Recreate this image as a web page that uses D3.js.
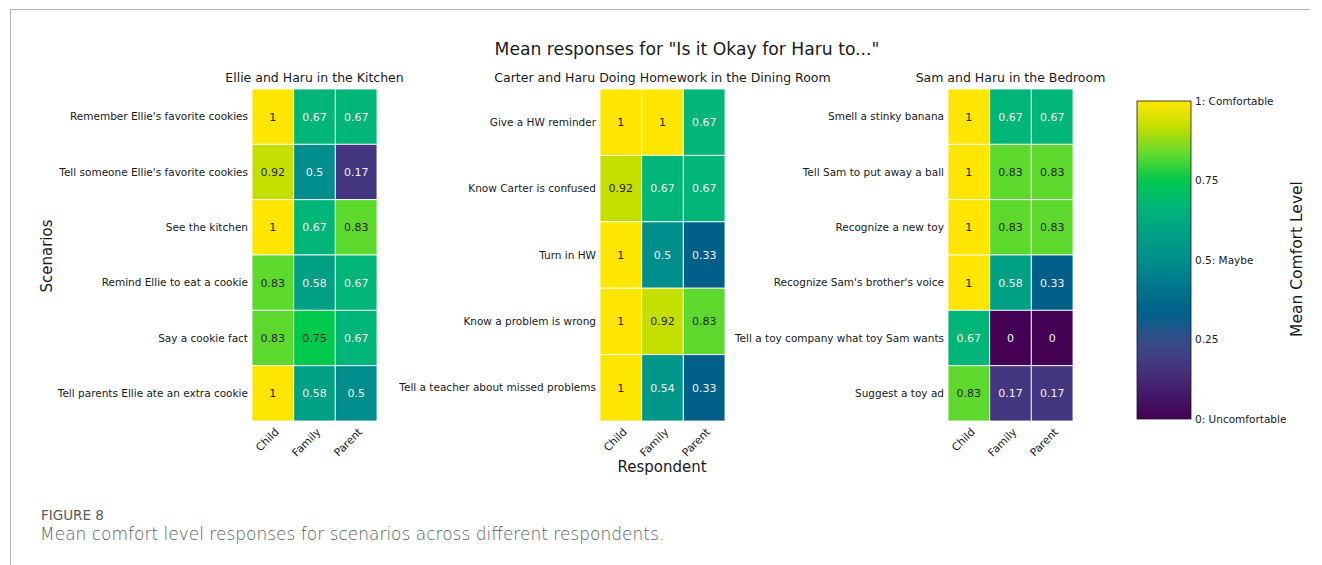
<!DOCTYPE html>
<html>
<head>
<meta charset="utf-8">
<style>
  body { margin: 0; background: #fff; }
  text { font-family: "DejaVu Sans", sans-serif; }
</style>
</head>
<body>
<div id="chart"></div>
<script src="https://d3js.org/d3.v7.min.js"></script>
<script>
    // respondents (columns)
    const respondents = ['Child', 'Family', 'Parent'];

    // kitchen panel
    const kitchenTitle = 'Ellie and Haru in the Kitchen';
    const kitchenScenarios = [
        "Remember Ellie's favorite cookies",
        "Tell someone Ellie's favorite cookies",
        'See the kitchen',
        'Remind Ellie to eat a cookie',
        'Say a cookie fact',
        'Tell parents Ellie ate an extra cookie'
    ];
    const kitchenValues = [
        [1, 0.67, 0.67],
        [0.92, 0.5, 0.17],
        [1, 0.67, 0.83],
        [0.83, 0.58, 0.67],
        [0.83, 0.75, 0.67],
        [1, 0.58, 0.5]
    ];

    // homework panel
    const homeworkTitle = 'Carter and Haru Doing Homework in the Dining Room';
    const homeworkScenarios = [
        'Give a HW reminder',
        'Know Carter is confused',
        'Turn in HW',
        'Know a problem is wrong',
        'Tell a teacher about missed problems'
    ];
    const homeworkValues = [
        [1, 1, 0.67],
        [0.92, 0.67, 0.67],
        [1, 0.5, 0.33],
        [1, 0.92, 0.83],
        [1, 0.54, 0.33]
    ];

    // bedroom panel
    const bedroomTitle = 'Sam and Haru in the Bedroom';
    const bedroomScenarios = [
        'Smell a stinky banana',
        'Tell Sam to put away a ball',
        'Recognize a new toy',
        "Recognize Sam's brother's voice",
        'Tell a toy company what toy Sam wants',
        'Suggest a toy ad'
    ];
    const bedroomValues = [
        [1, 0.67, 0.67],
        [1, 0.83, 0.83],
        [1, 0.83, 0.83],
        [1, 0.58, 0.33],
        [0.67, 0, 0],
        [0.83, 0.17, 0.17]
    ];

    // colorbar ticks
    const cbarTicks = [0, 0.25, 0.5, 0.75, 1];
    const cbarLabels = ['0: Uncomfortable', '0.25', '0.5: Maybe', '0.75', '1: Comfortable'];

    const W = 1322, H = 565;
    const svg = d3.select('#chart').append('svg')
        .attr('width', W)
        .attr('height', H);

    // frame of the figure box
    svg.append('path')
        .attr('d', 'M10.5,' + H + ' L10.5,9.5 L1310,9.5')
        .attr('fill', 'none')
        .attr('stroke', '#b5b5b5')
        .attr('stroke-width', 1);

    // viridis as it looks in the figure (more saturated)
    const color = d3.scaleLinear()
        .domain([0, 0.17, 0.25, 0.33, 0.42, 0.5, 0.58, 0.67, 0.75, 0.83, 0.92, 1])
        .range(['#440154', '#443680', '#334f8a', '#00608a', '#00778c', '#008e8c',
                '#00a085', '#00b578', '#00c94c', '#5dd92e', '#c5df00', '#ffe600'])
        .interpolate(d3.interpolateRgb)
        .clamp(true);

    svg.append('text')
        .attr('x', 687)
        .attr('y', 55)
        .attr('text-anchor', 'middle')
        .attr('font-size', 17.2)
        .attr('fill', '#1a1a1a')
        .text('Mean responses for "Is it Okay for Haru to..."');

    const gridTop = 89, gridBottom = 421, cellW = 125;

    function panel(left, title, scenarios, values) {
        const x = d3.scaleBand().domain(respondents).range([left, left + cellW]);
        const y = d3.scaleBand().domain(scenarios).range([gridTop, gridBottom]);
        const g = svg.append('g');

        g.append('text')
            .attr('x', left + cellW / 2)
            .attr('y', 82)
            .attr('text-anchor', 'middle')
            .attr('font-size', 12.5)
            .attr('fill', '#1a1a1a')
            .text(title);

        scenarios.forEach((s, i) => {
            respondents.forEach((r, j) => {
                const v = values[i][j];
                g.append('rect')
                    .attr('x', x(r))
                    .attr('y', y(s))
                    .attr('width', x.bandwidth())
                    .attr('height', y.bandwidth())
                    .attr('fill', color(v))
                    .attr('stroke', '#ffffff')
                    .attr('stroke-opacity', 0.85)
                    .attr('stroke-width', 1);
                g.append('text')
                    .attr('x', x(r) + x.bandwidth() / 2)
                    .attr('y', y(s) + y.bandwidth() / 2)
                    .attr('dy', '0.35em')
                    .attr('text-anchor', 'middle')
                    .attr('font-size', 11)
                    .attr('fill', v >= 0.72 ? '#262626' : '#f2f2f2')
                    .text(String(v));
            });
        });

        // row labels
        g.selectAll('.row-label')
            .data(scenarios)
            .enter()
            .append('text')
            .attr('x', left - 4)
            .attr('y', d => y(d) + y.bandwidth() / 2)
            .attr('dy', '0.35em')
            .attr('text-anchor', 'end')
            .attr('font-size', 10.5)
            .attr('fill', '#1a1a1a')
            .text(d => d);

        // rotated column labels
        g.selectAll('.col-label')
            .data(respondents)
            .enter()
            .append('text')
            .attr('transform', d => `translate(${x(d) + x.bandwidth() / 2 + 4},${gridBottom + 9}) rotate(-45)`)
            .attr('text-anchor', 'end')
            .attr('dy', '0.35em')
            .attr('font-size', 10.8)
            .attr('fill', '#1a1a1a')
            .text(d => d);
    }

    panel(252, kitchenTitle, kitchenScenarios, kitchenValues);
    panel(600, homeworkTitle, homeworkScenarios, homeworkValues);
    panel(948, bedroomTitle, bedroomScenarios, bedroomValues);

    // axis titles
    svg.append('text')
        .attr('transform', 'translate(52,256) rotate(-90)')
        .attr('text-anchor', 'middle')
        .attr('font-size', 15)
        .attr('fill', '#1a1a1a')
        .text('Scenarios');

    svg.append('text')
        .attr('x', 662)
        .attr('y', 472)
        .attr('text-anchor', 'middle')
        .attr('font-size', 15)
        .attr('fill', '#1a1a1a')
        .text('Respondent');

    // colorbar
    const cbX = 1137, cbW = 54, cbTop = 101, cbBottom = 419;
    const cy = d3.scaleLinear().domain([0, 1]).range([cbBottom, cbTop]);
    const defs = svg.append('defs');
    const grad = defs.append('linearGradient')
        .attr('id', 'cbar')
        .attr('x1', 0).attr('y1', 1).attr('x2', 0).attr('y2', 0);
    d3.range(0, 1.0001, 0.02).forEach(t => {
        grad.append('stop')
            .attr('offset', t)
            .attr('stop-color', color(t));
    });
    svg.append('rect')
        .attr('x', cbX)
        .attr('y', cbTop)
        .attr('width', cbW)
        .attr('height', cbBottom - cbTop)
        .attr('fill', 'url(#cbar)')
        .attr('stroke', '#1a1a1a')
        .attr('stroke-width', 0.8);

    svg.selectAll('.cb-label')
        .data(cbarTicks)
        .enter()
        .append('text')
        .attr('x', cbX + cbW + 4)
        .attr('y', d => cy(d))
        .attr('dy', '0.35em')
        .attr('font-size', 10.5)
        .attr('fill', '#1a1a1a')
        .text((d, i) => cbarLabels[i]);

    svg.append('text')
        .attr('transform', 'translate(1302,259) rotate(-90)')
        .attr('text-anchor', 'middle')
        .attr('font-size', 15.5)
        .attr('fill', '#1a1a1a')
        .text('Mean Comfort Level');

    // caption
    svg.append('text')
        .attr('x', 41)
        .attr('y', 520)
        .attr('font-family', '"Open Sans", sans-serif')
        .attr('font-size', 13.5)
        .attr('fill', '#5a5a5a')
        .text('FIGURE 8');

    svg.append('text')
        .attr('x', 40)
        .attr('y', 540)
        .attr('font-family', '"Open Sans", sans-serif')
        .attr('font-weight', 300)
        .attr('font-size', 17)
        .attr('fill', '#606060')
        .text('Mean comfort level responses for scenarios across different respondents.');
</script>
</body>
</html>
